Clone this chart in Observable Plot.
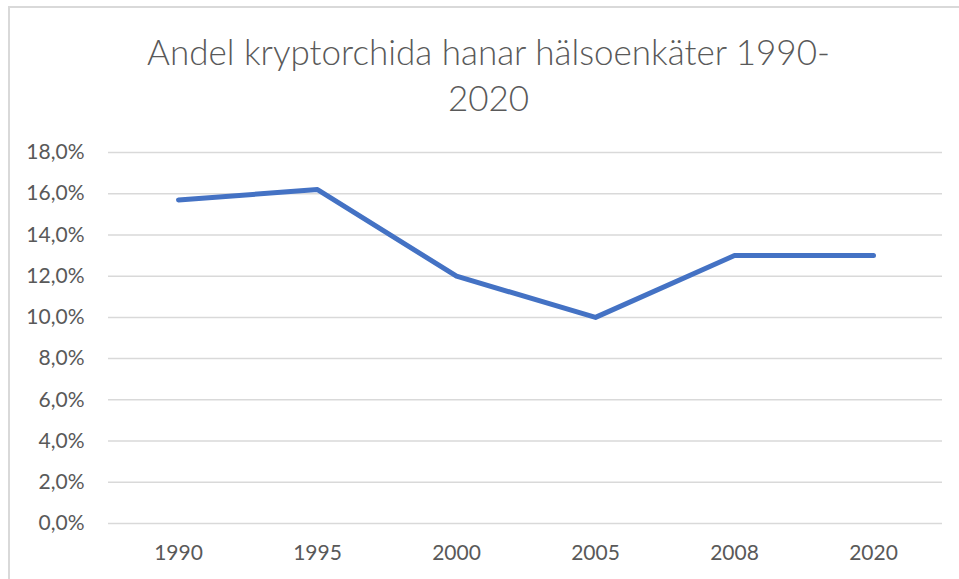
<!DOCTYPE html>
<html>
<head>
<meta charset="utf-8">
<script src="https://cdn.jsdelivr.net/npm/d3@7"></script>
<script src="https://cdn.jsdelivr.net/npm/@observablehq/plot@0.6"></script>
<style>
  html, body { margin: 0; padding: 0; background: #fff; }
  #frame {
    position: absolute; left: 8px; top: 6px; width: 951px; height: 573px;
    border-left: 2px solid #d9d9d9; border-top: 2px solid #d9d9d9;
    box-sizing: border-box; background: #fff;
  }
  #title {
    position: absolute; left: 9px; top: 28px; width: 959px;
    text-align: center; font-family: Lato, "Open Sans", sans-serif; font-weight: 300;
    font-size: 35px; line-height: 46px; color: #595959;
  }
  #chart { position: absolute; left: 0; top: 130px; }
</style>
</head>
<body>
<div id="frame"></div>
<div id="title">Andel kryptorchida hanar hälsoenkäter 1990-<br>2020</div>
<div id="chart"></div>
<script>
const years = ["1990", "1995", "2000", "2005", "2008", "2020"];
const shares = [15.7, 16.2, 12.0, 10.0, 13.0, 13.0];
const yTicks = [0, 2, 4, 6, 8, 10, 12, 14, 16, 18];

const data = years.map((y, i) => ({year: y, share: shares[i]}));
const fmt = d => d.toFixed(1).replace(".", ",") + "%";

const chart = Plot.plot({
  width: 959,
  height: 449,
  marginLeft: 108,
  marginRight: 17,
  marginTop: 22,
  marginBottom: 56,
  style: {fontFamily: "Lato, 'Open Sans', sans-serif", fontSize: "21px", color: "#595959", background: "transparent"},
  x: {type: "point", domain: years, padding: 0.5, label: null},
  y: {domain: [0, 18], label: null},
  marks: [
    Plot.ruleY(yTicks, {stroke: "#d9d9d9", strokeWidth: 1.5}),
    Plot.axisY(yTicks, {tickSize: 0, tickPadding: 24, tickFormat: fmt, fill: "#595959"}),
    Plot.axisX(years, {tickSize: 0, tickPadding: 22, fill: "#595959"}),
    Plot.line(data, {x: "year", y: "share", stroke: "#4472C4", strokeWidth: 5, strokeLinecap: "round", strokeLinejoin: "round"})
  ]
});
document.getElementById("chart").appendChild(chart);
</script>
</body>
</html>
